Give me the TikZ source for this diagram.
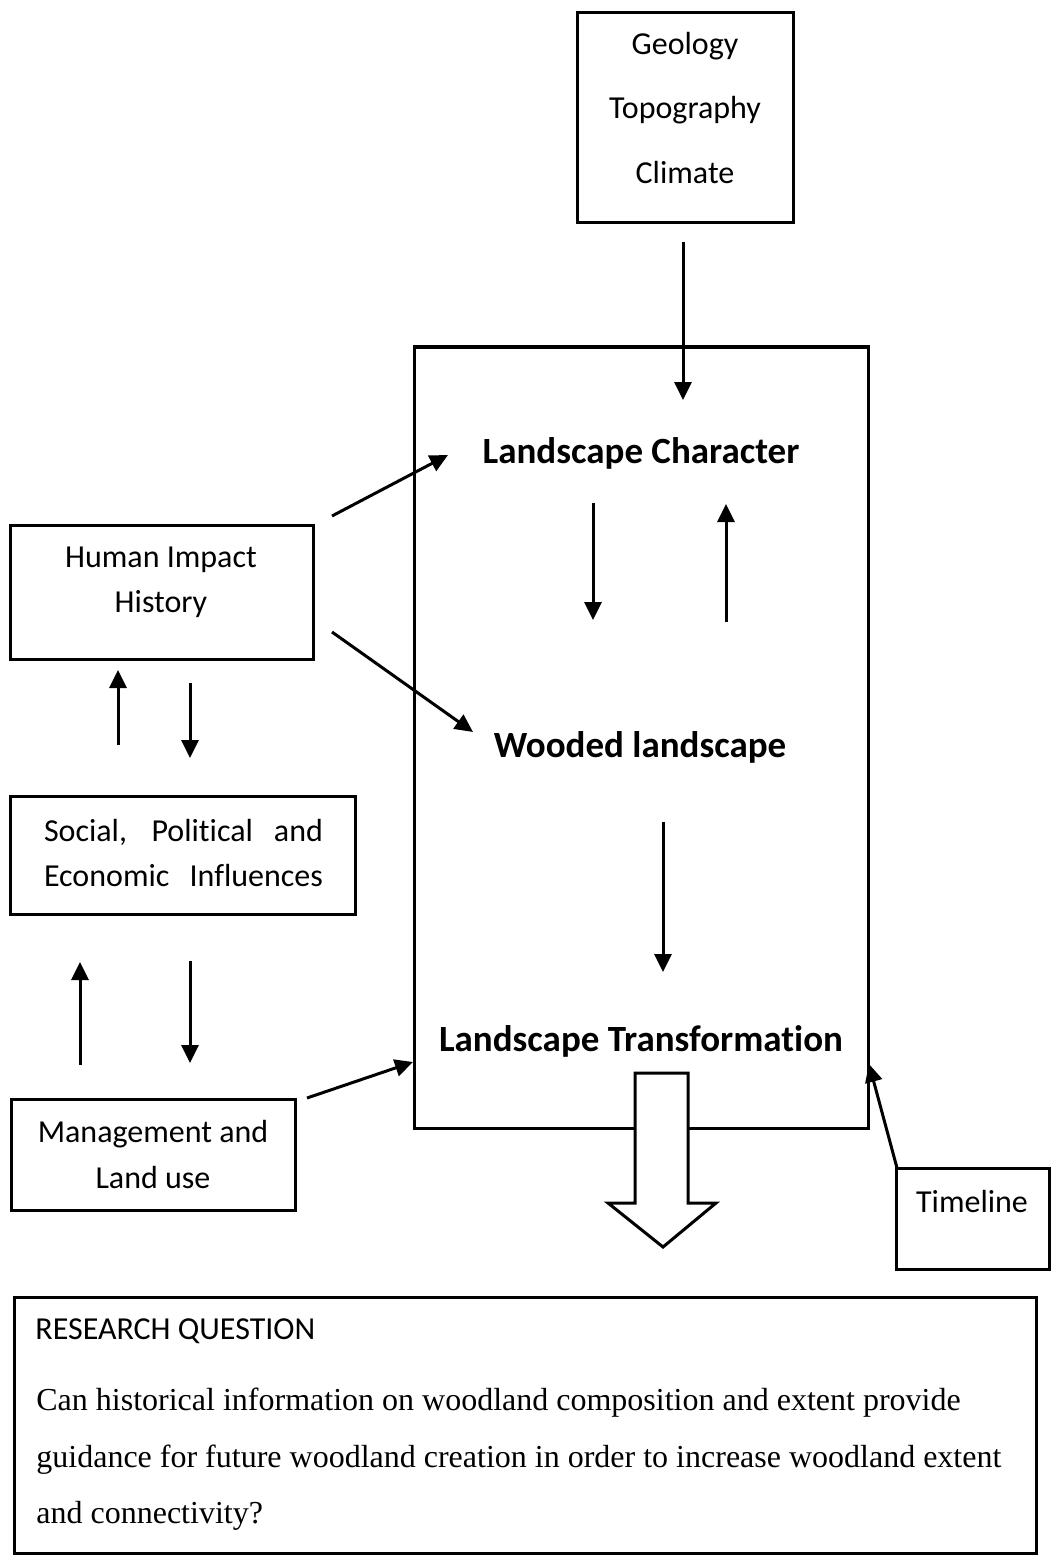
\documentclass[tikz,border=0pt]{standalone}
\usepackage{fontspec}
\setmainfont[Ligatures=CommonOff]{Carlito}
\newfontfamily\qfont{Liberation Serif}
\usetikzlibrary{arrows.meta}

\begin{document}
\begin{tikzpicture}[x=0.5pt,y=-0.5pt,
  box/.style={draw, line width=1.5pt, inner sep=0pt},
  lbl/.style={font=\fontsize{16}{19}\selectfont, inner sep=0pt, anchor=mid},
  big/.style={font=\fontsize{18.5}{22}\selectfont\bfseries, inner sep=0pt, anchor=mid},
  qtxt/.style={font=\qfont\fontsize{16}{19}\selectfont, inner sep=0pt, anchor=mid west},
  arr/.style={line width=1.5pt, -{Triangle[length=9pt,width=8.5pt]}},
]
\useasboundingbox (0,0) rectangle (1053,1556);

% boxes
\node[box, minimum width=108pt, minimum height=105pt] (geo) at (685,118) {};
\node[box, minimum width=227pt, minimum height=390.5pt] (main) at (641,737.5) {};
\node[box, minimum width=151.5pt, minimum height=67pt] (human) at (161.5,592) {};
\node[box, minimum width=172.5pt, minimum height=59pt] (social) at (182.5,855) {};
\node[box, minimum width=142pt, minimum height=55.5pt] (mgmt) at (153,1154.5) {};
\node[box, minimum width=76.5pt, minimum height=50.5pt] (time) at (972.5,1218.5) {};
\node[box, minimum width=511pt, minimum height=128pt] (rq) at (525,1425) {};

% box texts
\node[lbl] (geo1) at (685,50) {Geology};
\node[lbl] (geo2) at (685,114) {Topography};
\node[lbl] (geo3) at (685,179) {Climate};
\node[big] (lc) at (641,459) {Landscape Character};
\node[big] (wl) at (640,753) {Wooded landscape};
\node[big] (lt) at (641,1047) {Landscape Transformation};
\node[lbl] (hum1) at (161,563) {Human Impact};
\node[lbl] (hum2) at (161,608) {History};
\node[lbl] (soc1) at (183.5,837) {\makebox[139.5pt][s]{Social, Political and}};
\node[lbl] (soc2) at (183.5,882) {\makebox[139.5pt][s]{Economic Influences}};
\node[lbl] (man1) at (153,1138) {Management and};
\node[lbl] (man2) at (153,1184) {Land use};
\node[lbl] (tl) at (972,1208) {Timeline};
\node[lbl, anchor=mid west] (rqh) at (35,1335) {RESEARCH QUESTION};
\node[qtxt] (rq1) at (36,1406) {Can historical information on woodland composition and extent provide};
\node[qtxt] (rq2) at (36,1463) {guidance for future woodland creation in order to increase woodland extent};
\node[qtxt] (rq3) at (36,1519) {and connectivity?};

% connector ends
\coordinate (geoOut) at (683,242);
\coordinate (lcIn) at (683,400);
\coordinate (lcDownA) at (593,503);
\coordinate (lcDownB) at (593,620);
\coordinate (lcUpA) at (726,622);
\coordinate (lcUpB) at (726,504);
\coordinate (wlDownA) at (663,822);
\coordinate (wlDownB) at (663,972);
\coordinate (humOutA) at (332,516);
\coordinate (humInA) at (448,455);
\coordinate (humOutB) at (332,632);
\coordinate (humInB) at (473,732);
\coordinate (hsUpA) at (118,745);
\coordinate (hsUpB) at (118,670);
\coordinate (hsDnA) at (190,683);
\coordinate (hsDnB) at (190,758);
\coordinate (smUpA) at (80,1065);
\coordinate (smUpB) at (80,962);
\coordinate (smDnA) at (190,961);
\coordinate (smDnB) at (190,1063);
\coordinate (mgOut) at (307,1098);
\coordinate (mgIn) at (413,1062);
\coordinate (tlOut) at (897,1168);
\coordinate (tlIn) at (869,1064);

% connectors
\draw[arr] (geoOut) -- (lcIn);
\draw[arr] (lcDownA) -- (lcDownB);
\draw[arr] (lcUpA) -- (lcUpB);
\draw[arr] (wlDownA) -- (wlDownB);
\draw[arr] (humOutA) -- (humInA);
\draw[arr] (humOutB) -- (humInB);
\draw[arr] (hsUpA) -- (hsUpB);
\draw[arr] (hsDnA) -- (hsDnB);
\draw[arr] (smUpA) -- (smUpB);
\draw[arr] (smDnA) -- (smDnB);
\draw[arr] (mgOut) -- (mgIn);
\draw[arr] (tlOut) -- (tlIn);

% hollow block arrow leading to the research question
\draw[line width=1.5pt, fill=white, line join=miter]
  (635,1073) -- (688,1073) -- (688,1203) -- (716,1203) -- (663,1247)
  -- (608,1203) -- (635,1203) -- cycle;
\end{tikzpicture}
\end{document}
